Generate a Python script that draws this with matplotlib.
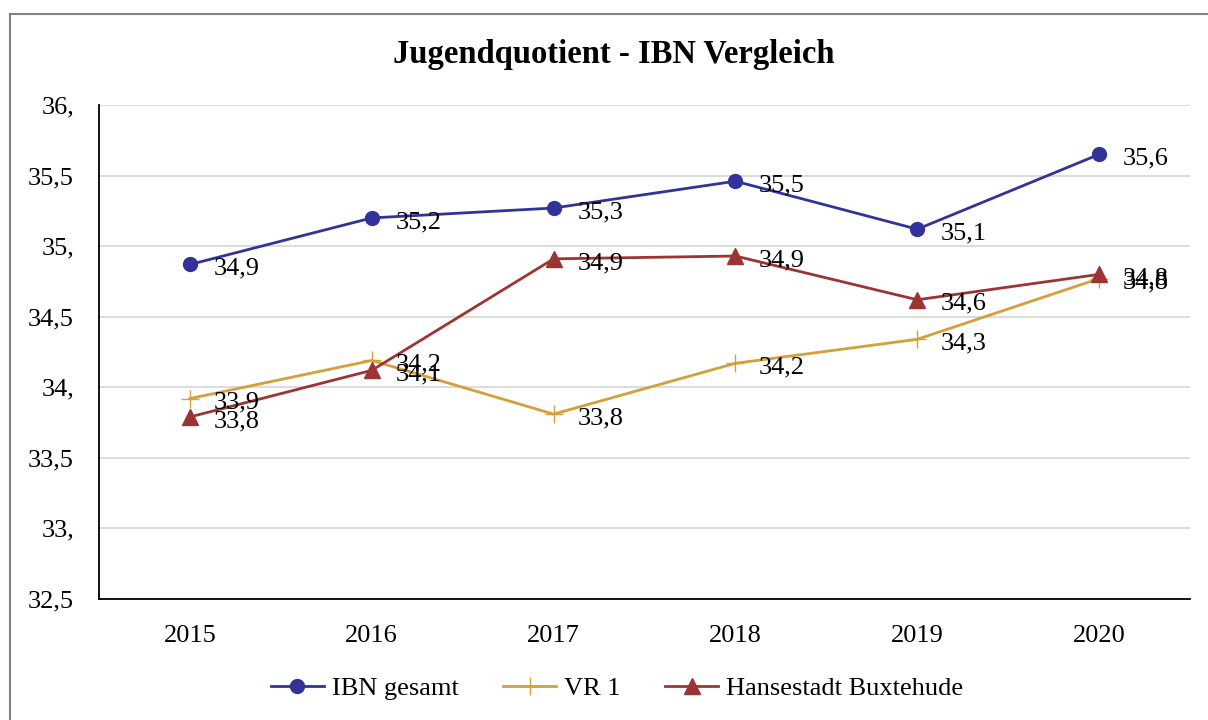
import numpy as np
import matplotlib
matplotlib.use("Agg")
import matplotlib.pyplot as plt
from matplotlib.lines import Line2D

# -----------------------------------------------------------------------------
# Data
# -----------------------------------------------------------------------------
years = ["2015", "2016", "2017", "2018", "2019", "2020"]
ibn_gesamt = [34.87, 35.20, 35.27, 35.46, 35.12, 35.65]
vr_1 = [33.92, 34.19, 33.81, 34.17, 34.34, 34.77]
buxtehude = [33.79, 34.12, 34.91, 34.93, 34.62, 34.80]
series_names = ["IBN gesamt", "VR 1", "Hansestadt Buxtehude"]
y_ticks = [32.5, 33.0, 33.5, 34.0, 34.5, 35.0, 35.5, 36.0]
y_ticklabels = ["32,5", "33,", "33,5", "34,", "34,5", "35,", "35,5", "36,"]

plt.rcParams["font.family"] = ["Liberation Serif", "DejaVu Serif"]

fig = plt.figure(figsize=(12.08, 7.2), dpi=100)
ax = fig.add_axes([99 / 1208, 1 - 599 / 720, (1190 - 99) / 1208, (599 - 105) / 720])

x = np.arange(len(years))
styles = [
    dict(color="#32339a", marker="o", markersize=10, lw=2),
    dict(color="#d3a03a", marker="+", markersize=13, markeredgewidth=1.0, lw=2),
    dict(color="#9c3434", marker="^", markersize=11, lw=2),
]
for vals, name, st in zip([ibn_gesamt, vr_1, buxtehude], series_names, styles):
    ax.plot(x, vals, label=name, **st)
    # data labels to the right of each point
    for xi, v in zip(x, vals):
        lab = f"{v:.1f}".replace(".", ",")
        ax.annotate(lab, (xi, v), xytext=(17, -3), textcoords="offset points",
                    ha="left", va="center", fontsize=19, color="black")

ax.set_xlim(-0.5, len(years) - 0.5)
ax.set_ylim(32.5, 36.0)
ax.set_xticks(x)
ax.set_xticklabels(years, fontsize=19)
ax.set_yticks(y_ticks)
ax.set_yticklabels(y_ticklabels, fontsize=19)
ax.tick_params(axis="x", length=0, pad=19)
ax.tick_params(axis="y", length=0, pad=18)
ax.grid(axis="y", color="#d9d9d9", lw=1.3)
ax.set_axisbelow(True)
for s in ["top", "right"]:
    ax.spines[s].set_visible(False)
for s in ["left", "bottom"]:
    ax.spines[s].set_color("black")
    ax.spines[s].set_linewidth(1.3)

fig.text(614 / 1208, 1 - 55 / 720, "Jugendquotient - IBN Vergleich", ha="center", va="center",
         fontsize=23.5, fontweight="bold")

handles, labels = ax.get_legend_handles_labels()
fig.legend(handles, labels, loc="center", bbox_to_anchor=(617 / 1208, 1 - 688 / 720), ncol=3,
           frameon=False, fontsize=19, handlelength=2.0, handletextpad=0.3, columnspacing=1.7)

# outer chart border
fig.add_artist(Line2D([10 / 1208, 10 / 1208], [0, 1 - 14 / 720], transform=fig.transFigure,
                      color="#808080", lw=1.5))
fig.add_artist(Line2D([10 / 1208, 1], [1 - 14 / 720, 1 - 14 / 720], transform=fig.transFigure,
                      color="#808080", lw=1.5))

fig.savefig("out.png", dpi=100)
